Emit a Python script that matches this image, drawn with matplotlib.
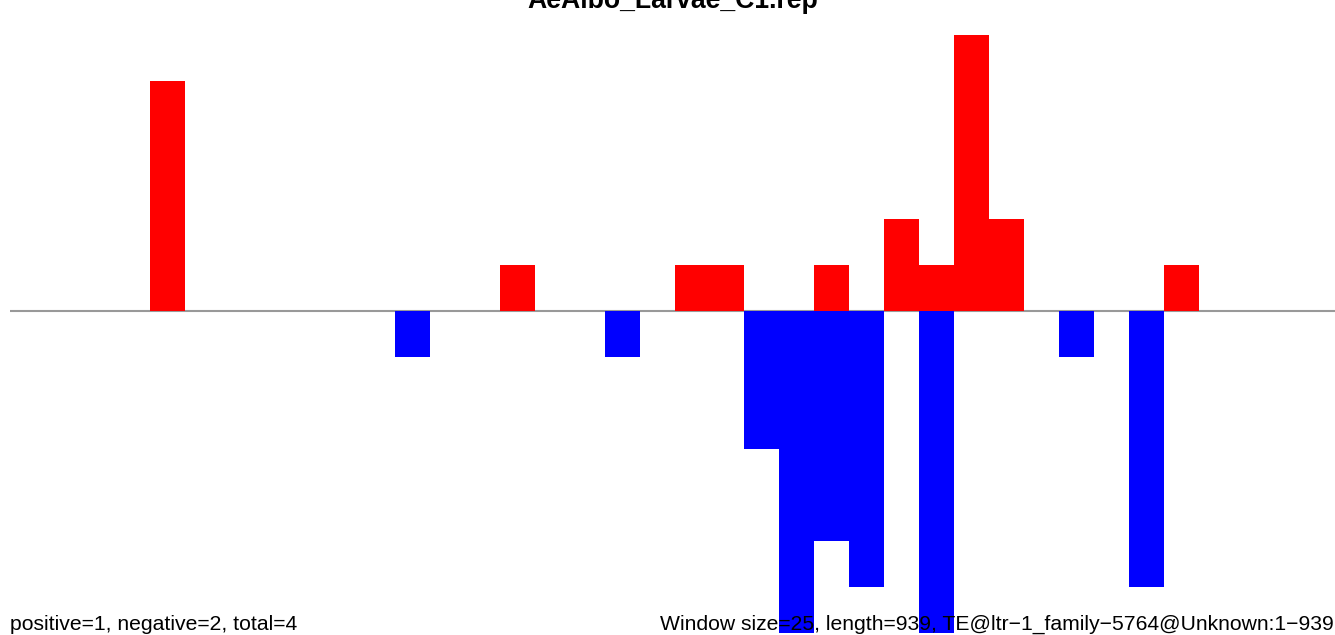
import matplotlib
matplotlib.use("Agg")
import matplotlib.pyplot as plt

plt.rcParams['font.family'] = ['Liberation Sans', 'DejaVu Sans']

# window counts (25 bp windows), index of window -> count
WINDOW = 25
LENGTH = 939
pos_bins = [4, 14, 19, 20, 23, 25, 26, 27, 28, 33]
pos_vals = [5, 1, 1, 1, 1, 2, 1, 6, 2, 1]
neg_bins = [11, 17, 21, 22, 23, 24, 26, 30, 32]
neg_vals = [-1, -1, -3, -7, -5, -6, -7, -1, -6]

title = "AeAlbo_Larvae_C1.rep"
left_note = "positive=1, negative=2, total=4"
right_note = "Window size=25, length=939, TE@ltr\u22121_family\u22125764@Unknown:1\u2212939"

W, H = 1335, 635
fig = plt.figure(figsize=(W / 100, H / 100), dpi=100)
ax = fig.add_axes([10.3 / W, 0, 1 - 10.3 / W, 1])
ax.set_axis_off()

ax.bar([b * WINDOW for b in pos_bins], pos_vals, width=WINDOW, align='edge',
       color='#ff0000', linewidth=0)
ax.bar([b * WINDOW for b in neg_bins], neg_vals, width=WINDOW, align='edge',
       color='#0000ff', linewidth=0)
ax.axhline(0, color='#999999', linewidth=1.5, zorder=0)

ax.set_xlim(0, (W - 10.3) / 34.96 * WINDOW)
ax.set_ylim(-324 / 46, 311 / 46)

fig.text(673 / W, 1 - 8 / H, title, ha='center', va='baseline',
         fontsize=19.2, fontweight='bold')
fig.text(10 / W, 5 / H, left_note, ha='left', va='baseline', fontsize=15.2, zorder=5)
fig.text(660 / W, 5 / H, right_note, ha='left', va='baseline', fontsize=15.2, zorder=5)

fig.savefig("out.png", dpi=100)
